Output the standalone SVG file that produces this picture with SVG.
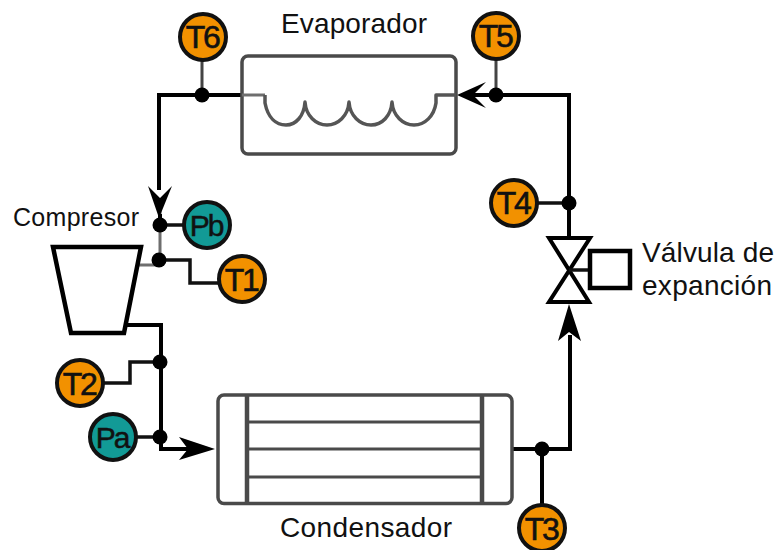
<svg xmlns="http://www.w3.org/2000/svg" width="776" height="550" viewBox="0 0 776 550">
<style>
.pipe{fill:none;stroke:#000;stroke-width:4;stroke-linejoin:miter}
.thin{fill:none;stroke:#111;stroke-width:3.5}
.gray{fill:none;stroke:#6e6e6e;stroke-width:3}
.lead{fill:none;stroke:#444;stroke-width:3}
.unit{fill:none;stroke:#4a4a4a;stroke-width:3.5}
.ln{fill:none;stroke:#4a4a4a;stroke-width:3}
.coil{fill:none;stroke:#555;stroke-width:3.5;stroke-linejoin:round}
.dark{fill:#fff;stroke:#000;stroke-width:4.5}
.dot{fill:#000}
.head{fill:#000;stroke:none}
.t{fill:#f29100;stroke:#111;stroke-width:4}
.p{fill:#129a96;stroke:#111;stroke-width:4}
text{font-family:"Liberation Sans",Arial,sans-serif;fill:#111}
.lb{font-size:28px}
.tag{font-size:32px;text-anchor:middle;letter-spacing:-2.5px;stroke:#111;stroke-width:.6}
.tagp{font-size:30px;text-anchor:middle;letter-spacing:-2px;stroke:#111;stroke-width:.5}
</style>
<g id="connectors">
<path class="pipe" d="M242 95H159V190"/>
<path class="gray" d="M160 198V260M139 265H160"/>
<path class="pipe" d="M160 225V214"/>
<path class="thin" d="M160 225H185"/>
<path class="thin" d="M160 260H190V283H220"/>
<path class="pipe" d="M125 325H161V449H190"/>
<path class="thin" d="M103 383H130V362H160"/>
<path class="thin" d="M136 437H160"/>
<path class="pipe" d="M513 449H570V335"/>
<path class="pipe" d="M542 449V505"/>
<path class="pipe" d="M470 95H569V238"/>
<path class="thin" d="M537 203H569"/>
<path class="lead" d="M202 60V95M496 59V95"/>
<path class="head" d="M159 218L148 186L160 198L172 186Z"/>
<path class="head" d="M215 449L179 437L188 449L179 460Z"/>
<path class="head" d="M569 304L558 341L569 332L581 341Z"/>
<path class="head" d="M457 95L486 82L473 95L486 108Z"/>
<circle class="dot" cx="202" cy="95" r="7.500"/>
<circle class="dot" cx="496" cy="95" r="7.500"/>
<circle class="dot" cx="160" cy="225" r="7.500"/>
<circle class="dot" cx="159" cy="260" r="7.500"/>
<circle class="dot" cx="160" cy="362" r="7.500"/>
<circle class="dot" cx="160" cy="437" r="7.500"/>
<circle class="dot" cx="542" cy="449" r="7.500"/>
<circle class="dot" cx="569" cy="203" r="7.500"/>
</g>
<g id="evaporador">
<rect class="unit" x="242" y="56" width="214" height="98" rx="6"/>
<path class="gray" d="M242 95H265"/>
<path class="coil" d="M265 95V103C268 118 276 125 286 125C296 125 304 116 305 102C306 116 316 125 327 125C338 125 348 116 349 102C350 116 360 125 371 125C382 125 391 116 392 102C393 116 403 125 414 125C425 125 434 116 436 103V95H456"/>
<text class="lb" x="281" y="33" textLength="146">Evaporador</text>
</g>
<g id="compresor">
<path class="dark" d="M53 247H141L124 333H71Z"/>
<text class="lb" x="13" y="226" style="font-size:25px" textLength="126">Compresor</text>
</g>
<g id="condensador">
<rect class="unit" x="218" y="395" width="294" height="108.500" rx="6"/>
<path class="ln" d="M247 422H482M247 449H482M247 477H482"/>
<path class="unit" style="stroke-width:4.5" d="M247 395V504M482 395V504"/>
<text class="lb" x="280" y="537" textLength="172">Condensador</text>
</g>
<g id="valvula">
<path class="dark" style="stroke-width:4;stroke-linejoin:miter" d="M549 238H590L549 302H589Z"/>
<path class="thin" d="M569 270H590"/>
<rect class="dark" x="590" y="251" width="40" height="37"/>
<text class="lb" x="642" y="262" textLength="132">Válvula de</text>
<text class="lb" x="642" y="295" textLength="130">expanción</text>
</g>
<g id="T6"><circle class="t" cx="203" cy="37" r="23"/><text class="tag" x="202" y="48">T6</text></g>
<g id="T5"><circle class="t" cx="496" cy="36" r="23"/><text class="tag" x="495" y="47">T5</text></g>
<g id="T4"><circle class="t" cx="514" cy="203" r="23"/><text class="tag" x="513" y="214">T4</text></g>
<g id="T1"><circle class="t" cx="242" cy="279" r="23"/><text class="tag" x="241" y="291">T1</text></g>
<g id="T2"><circle class="t" cx="80" cy="383" r="23"/><text class="tag" x="79" y="395">T2</text></g>
<g id="T3"><circle class="t" cx="542" cy="528" r="23"/><text class="tag" x="541" y="540">T3</text></g>
<g id="Pb"><circle class="p" cx="207" cy="225" r="23"/><text class="tagp" x="206" y="236">Pb</text></g>
<g id="Pa"><circle class="p" cx="113" cy="437" r="23"/><text class="tagp" x="112" y="448">Pa</text></g>
</svg>
